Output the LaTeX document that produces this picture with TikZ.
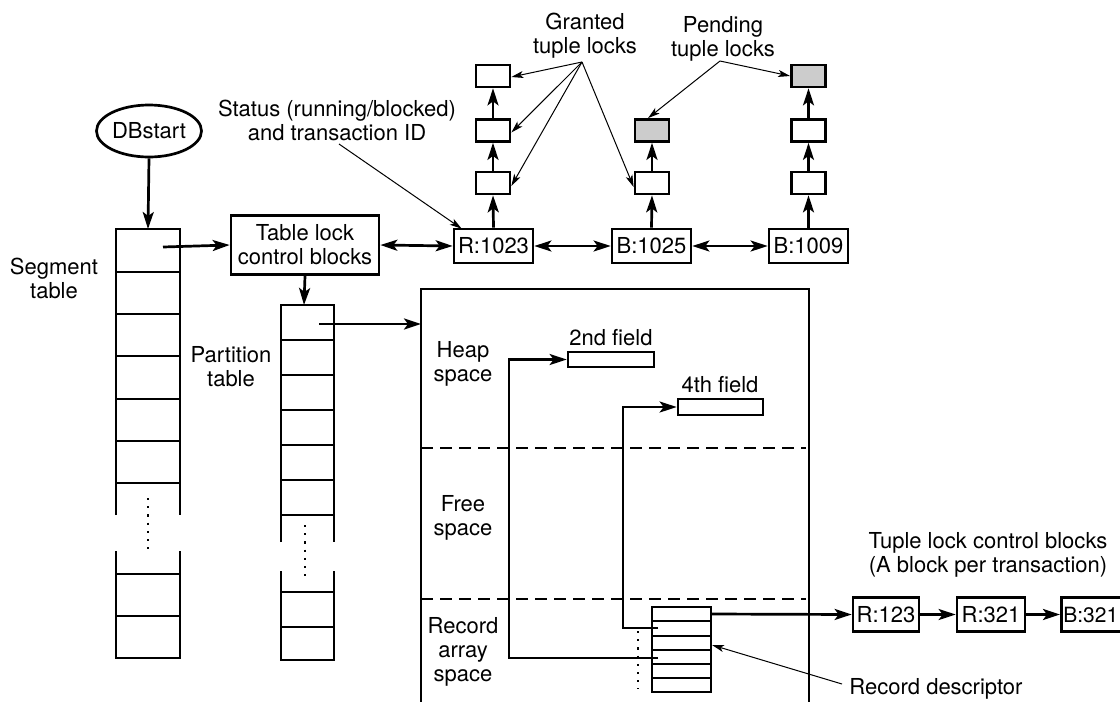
\documentclass[tikz,border=0pt]{standalone}
\usepackage{fontspec}
\setmainfont{TeX Gyre Heros}
\usetikzlibrary{arrows.meta,shapes.geometric}
\definecolor{lockgray}{RGB}{204,204,204}
\begin{document}
\begin{tikzpicture}[x=1pt,y=-1pt,
  every node/.style={font=\fontsize{22}{24}\selectfont},
  thk/.style={line width=2.7pt},
  arr/.style={thk,-{Stealth[length=17pt,width=11pt,inset=4pt]}},
  darr/.style={thk,{Stealth[length=17pt,width=11pt,inset=4pt]}-{Stealth[length=17pt,width=11pt,inset=4pt]}},
  tarr/.style={line width=1pt,-{Stealth[length=12pt,width=7pt,inset=3pt]}},
  box/.style={draw,thk,rectangle,inner sep=0pt,align=center},
  lbl/.style={align=center,inner sep=0pt},
  small/.style={box,minimum width=34pt,minimum height=22pt},
  pend/.style={small,fill=lockgray},
  txb/.style={box,minimum height=34pt},
  dotl/.style={line width=2.6pt,dash pattern=on 2.2pt off 6pt},
  dashl/.style={line width=2.7pt,dash pattern=on 12pt off 7pt}
]
\useasboundingbox (0,0) rectangle (1120,702);
\clip (0,0) rectangle (1120,702);

% DBstart and segment table
\node[draw,thk,ellipse,minimum width=105pt,minimum height=52pt,inner sep=0pt] (db) at (149,131) {DBstart};
\coordinate (segtop) at (148,229);
\coordinate (seg1) at (163,247);
\draw[arr] (db.south) -- (segtop);
\draw[thk] (116,515) -- (116,229) -- (180,229) -- (180,515);
\foreach \y in {272,314,356,399,441,483} \draw[thk] (116,\y) -- (180,\y);
\draw[thk] (116,551) -- (116,658) -- (180,658) -- (180,551);
\foreach \y in {574,616} \draw[thk] (116,\y) -- (180,\y);
\draw[dotl] (148,498) -- (148,550);
\node[lbl] (seglbl) at (54,278) {Segment\\table};

% Table lock control blocks
\node[box,minimum width=148pt,minimum height=59pt] (tlcb) at (305,245) {Table lock\\control blocks};
\draw[arr] (seg1) -- (tlcb.west);

% Partition table
\coordinate (parttop) at (304,305);
\coordinate (part1) at (319,324);
\draw[arr] (tlcb.south) -- (parttop);
\draw[thk] (281,542) -- (281,305) -- (334,305) -- (334,542);
\foreach \y in {340,375,410,445,480,515} \draw[thk] (281,\y) -- (334,\y);
\draw[thk] (281,571) -- (281,660) -- (334,660) -- (334,571);
\foreach \y in {592,627} \draw[thk] (281,\y) -- (334,\y);
\draw[dotl] (305,525) -- (305,577);
\node[lbl] (partlbl) at (231,367) {Partition\\table};

% Big page box
\coordinate (heapin) at (421,324);
\draw[arr] (part1) -- (heapin);
\draw[thk] (421,710) -- (421,289) -- (809,289) -- (809,710);
\draw[dashl] (421,448) -- (806,448);
\draw[dashl] (421,599) -- (806,599);
\node[lbl] (heaplbl) at (463,364) {Heap\\space};
\node[lbl] (freelbl) at (463,518) {Free\\space};
\node[lbl] (reclbl) at (463,652) {Record\\array\\space};

% Fields
\node[box,minimum width=86pt,minimum height=15pt] (f2) at (611,359.5) {};
\node[lbl] (f2lbl) at (611,338) {2nd field};
\node[box,minimum width=85pt,minimum height=16pt] (f4) at (720.5,407) {};
\node[lbl] (f4lbl) at (720,385) {4th field};

% Record descriptor array
\node[draw,thk,rectangle,minimum width=59pt,minimum height=85pt,inner sep=0pt] (rec) at (681.5,649.5) {};
\foreach \y in {621,636,650,664,678} \draw[thk] (652,\y) -- (711,\y);
\draw[dotl] (638,631) -- (638,689);
\coordinate (r2) at (658,628);
\coordinate (r4) at (658,658);
\coordinate (recout) at (711,614);
\draw[arr] (r4) -- (509,658) |- (f2.west);
\draw[arr] (r2) -- (623,628) |- (f4.west);

% Tuple lock control blocks (bottom right)
\node[txb,minimum width=66pt] (t1) at (886,614.5) {R:123};
\node[txb,minimum width=68pt] (t2) at (991,614.5) {R:321};
\node[txb,anchor=west,minimum width=68pt,text width=64pt,align=left,inner xsep=1.5pt,font=\fontsize{21}{24}\selectfont] (t3) at (1060,614.5) {B:321};
\draw[arr] (recout) -- (t1.west);
\draw[arr] (t1.east) -- (t2.west);
\draw[arr] (t2.east) -- (t3.west);
\node[lbl] (tlbl) at (988,555) {Tuple lock control blocks\\(A block per transaction)};
\node[lbl] (rdlbl) at (936,689) {Record descriptor};
\coordinate (rdfrom) at (842,684);
\draw[tarr] (rdfrom) -- (712,645);

% Transaction blocks (top)
\node[txb,minimum width=79pt] (R1023) at (493.5,246) {R:1023};
\node[txb,minimum width=79pt] (B1025) at (651.5,246) {B:1025};
\node[txb,minimum width=79pt] (B1009) at (808.5,246) {B:1009};
\draw[darr] (tlcb.east) -- (R1023.west);
\draw[darr] (R1023.east) -- (B1025.west);
\draw[darr] (B1025.east) -- (B1009.west);

\node[small] (a1) at (493,183) {};
\node[small] (a2) at (493,130.5) {};
\node[small] (a3) at (493,76) {};
\node[small] (b1) at (652,183) {};
\node[pend] (b2) at (652,130.5) {};
\node[small] (c1) at (808.5,183) {};
\node[small] (c2) at (808.5,130.5) {};
\node[pend] (c3) at (808.5,76) {};
\draw[arr] (R1023.north) -- (a1.south);
\draw[arr] (a1.north) -- (a2.south);
\draw[arr] (a2.north) -- (a3.south);
\draw[arr] (B1025.north) -- (b1.south);
\draw[arr] (b1.north) -- (b2.south);
\draw[arr] (B1009.north) -- (c1.south);
\draw[arr] (c1.north) -- (c2.south);
\draw[arr] (c2.north) -- (c3.south);

% Labels and pointers
\node[lbl] (glbl) at (585,36) {Granted\\tuple locks};
\node[lbl] (plbl) at (723,38.5) {Pending\\tuple locks};
\coordinate (gfrom) at (582,62);
\coordinate (pfrom) at (720,61);
\draw[tarr] (gfrom) -- ([yshift=-1pt]a3.east);
\draw[tarr] (gfrom) -- ([yshift=-2pt]a2.east);
\draw[tarr] (gfrom) -- ([yshift=-3pt]a1.east);
\draw[tarr] (gfrom) -- ([yshift=-4pt]b1.west);
\draw[tarr] (pfrom) -- ([xshift=-4pt]b2.north);
\draw[tarr] (pfrom) -- (c3.west);
\node[lbl] (stlbl) at (337,120) {Status (running/blocked)\\and transaction ID};
\coordinate (stfrom) at (339,144);
\draw[tarr] (stfrom) -- ([xshift=9pt,yshift=-1pt]R1023.north west);
\end{tikzpicture}
\end{document}
